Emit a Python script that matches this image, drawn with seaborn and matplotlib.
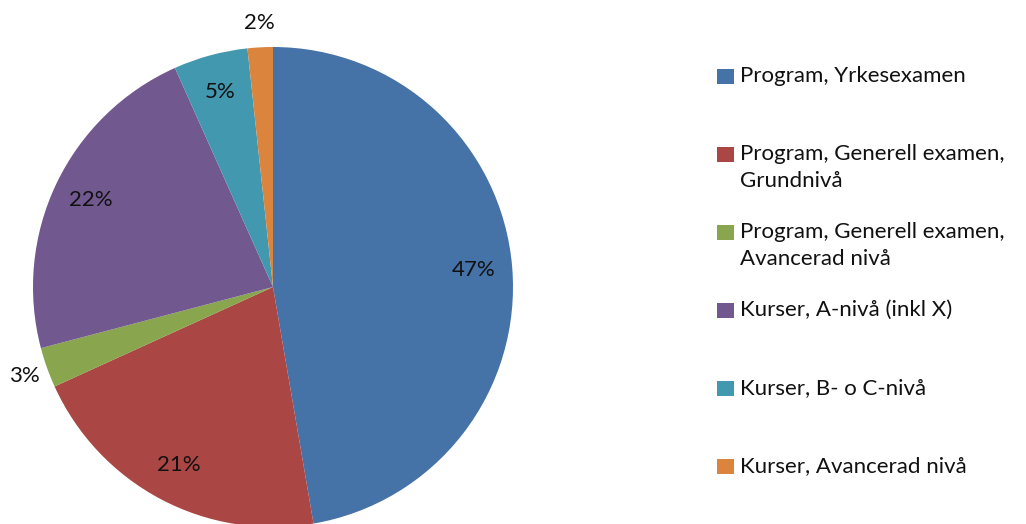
import seaborn as sns
import numpy as np
import matplotlib.pyplot as plt
from matplotlib.patches import Rectangle

sns.set_theme(style="white")
plt.rcParams['font.family'] = ['Lato', 'DejaVu Sans']

categories = [
    "Program, Yrkesexamen",
    "Program, Generell examen,\nGrundnivå",
    "Program, Generell examen,\nAvancerad nivå",
    "Kurser, A-nivå (inkl X)",
    "Kurser, B- o C-nivå",
    "Kurser, Avancerad nivå",
]
shares = [47.3, 20.9, 2.7, 22.4, 5.0, 1.7]
colors = ["#4572A7", "#AA4643", "#89A54E", "#71588F", "#4198AF", "#DB843D"]

W, H = 1026, 524
fig = plt.figure(figsize=(W / 100, H / 100), dpi=100)

# pie: centre ~ (273, 287) px, radius ~ 240 px
lim = 1.05
r = 240
cx, cy = 273, 287
ax = fig.add_axes([(cx - r * lim) / W, (H - cy - r * lim) / H,
                   2 * r * lim / W, 2 * r * lim / H])

wedges, _ = ax.pie(shares, colors=colors, startangle=90, counterclock=False,
                   wedgeprops=dict(linewidth=0))
ax.set_xlim(-lim, lim)
ax.set_ylim(-lim, lim)
ax.set_aspect("equal")
ax.axis("off")

total = sum(shares)
for w, v in zip(wedges, shares):
    mid = np.deg2rad((w.theta1 + w.theta2) / 2)
    d = 1.1 if v < 4 else 0.84
    ax.text(d * np.cos(mid), d * np.sin(mid), f"{v / total * 100:.0f}%",
            ha="center", va="center", fontsize=16, color="#111111")

# legend, Excel style: entries on a fixed 78 px grid, text top aligned
for i, (lab, c) in enumerate(zip(categories, colors)):
    yc = 76 + 78 * i
    fig.add_artist(Rectangle((717 / W, (H - yc - 7.5) / H), 17 / W, 15 / H,
                             transform=fig.transFigure, color=c, lw=0))
    fig.text(740 / W, (H - yc + 10) / H, lab, ha="left", va="top",
             fontsize=16, color="#111111", linespacing=1.42)

plt.savefig("out.png", dpi=100)
